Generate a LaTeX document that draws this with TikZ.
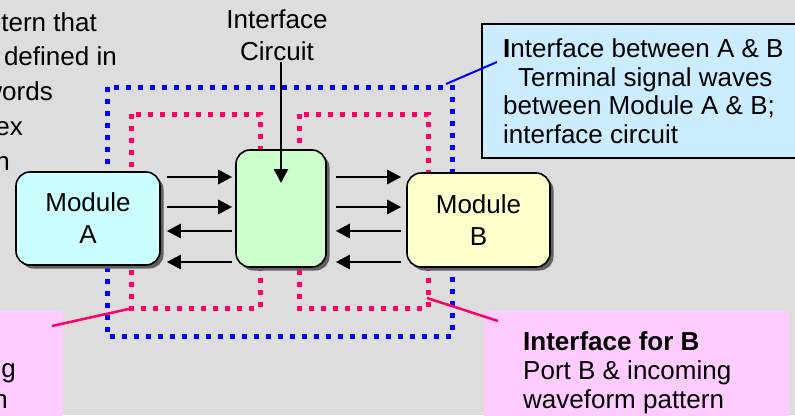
\documentclass[tikz,border=0pt]{standalone}
\usepackage{fontspec}
\setmainfont{Liberation Sans}
\usetikzlibrary{arrows.meta,shadows,calc}
\definecolor{bgc}{HTML}{DDDDDD}
\definecolor{bluefill}{HTML}{CCECFF}
\definecolor{modA}{HTML}{CCFFFF}
\definecolor{modC}{HTML}{CCFFCC}
\definecolor{modB}{HTML}{FFFFCC}
\definecolor{pinkfill}{HTML}{FFCCFF}
\definecolor{dotpink}{HTML}{FF0066}
\definecolor{dotblue}{HTML}{0000FF}
\definecolor{shadowc}{HTML}{606060}
\begin{document}
\begin{tikzpicture}[x=1pt,y=-1pt,
  modbox/.style={draw=black, line width=1.6pt, rounded corners=14pt,
    drop shadow={shadow xshift=3.5pt, shadow yshift=-3.5pt, fill=shadowc, opacity=1},
    align=center, inner sep=0pt, font=\fontsize{26}{32}\selectfont},
  arr/.style={line width=2.6pt, -{Triangle[length=14pt,width=14pt]}},
  bluedot/.style={draw=dotblue, line width=5pt, dash pattern=on 5pt off 7pt},
  pinkdot/.style={draw=dotpink, line width=5pt, dash pattern=on 5pt off 7pt},
  txt/.style={inner sep=0pt, font=\fontsize{26}{29}\selectfont},
  leaderpink/.style={draw=dotpink, line width=2.5pt},
  leaderblue/.style={draw=dotblue, line width=2pt}]
\useasboundingbox (0,0) rectangle (795,415);
\clip (0,0) rectangle (795,415);
\fill[bgc] (0,0) rectangle (795,415);

% dotted interface outlines
\draw[bluedot] (107,87) rectangle (452,336);
\draw[pinkdot] (131,114) rectangle (260,308);
\draw[pinkdot] (299,114) rectangle (428,308);

% modules
\node[modbox, fill=modA, minimum width=144pt, minimum height=93pt] (A) at (88,218.5) {Module\\A};
\node[modbox, fill=modC, minimum width=90pt, minimum height=117pt] (C) at (281,208.5) {};
\node[modbox, fill=modB, minimum width=143pt, minimum height=94pt] (B) at (478.5,220) {Module\\B};

% signal arrows
\foreach \yy in {177,207}{
  \draw[arr, shorten <=6pt, shorten >=3pt] (A.east |- 0,\yy) -- (C.west |- 0,\yy);
  \draw[arr, shorten <=9pt, shorten >=5pt] (C.east |- 0,\yy) -- (B.west |- 0,\yy);
}
\foreach \yy in {231,262}{
  \draw[arr, shorten <=3pt, shorten >=6pt] (C.west |- 0,\yy) -- (A.east |- 0,\yy);
  \draw[arr, shorten <=5pt, shorten >=9pt] (B.west |- 0,\yy) -- (C.east |- 0,\yy);
}

% interface circuit label
\node[txt, font=\fontsize{26}{32}\selectfont, align=center, anchor=north] (lbl) at (277,9) {Interface\\Circuit};
\draw[arr, shorten <=2pt, shorten >=25.5pt] (lbl.south -| C.center) -- (C.center);

% callout boxes
\fill[bluefill, draw=black, line width=2.5pt] (482,24) rectangle (805,158);
\node[txt, align=left, anchor=north west, font=\fontsize{26}{28.7}\selectfont] (ttab) at (503,38.5)
  {\textbf{I}nterface between A \& B\\\hspace*{15pt}Terminal signal waves\\between Module A \& B;\\interface circuit};
\fill[pinkfill] (484,311) rectangle (789,420);
\node[txt, align=left, anchor=north west] (tfb) at (523,331.5)
  {\textbf{Interface for B}\\Port B \& incoming\\waveform pattern};
\fill[pinkfill] (-10,311) rectangle (63,420);
\node[txt, anchor=base east] (tfa1) at (16,377) {ng};
\node[txt, anchor=base east] (tfa2) at (8,408) {n};

% left text fragments
\node[txt, anchor=base east] (lt1) at (97,31) {tern that};
\node[txt, anchor=base east] (lt2) at (117,65) {defined in};
\node[txt, anchor=base east] (lt3) at (53,100) {words};
\node[txt, anchor=base east] (lt4) at (23,135) {ex};
\node[txt, anchor=base east] (lt5) at (10,170) {n};

% leader lines
\coordinate (pbA) at (133,308);
\coordinate (pbAend) at (52,326);
\coordinate (pbB) at (427,298);
\coordinate (pbBend) at (498,321);
\coordinate (bl) at (446,84);
\coordinate (blend) at (497,62);
\draw[leaderpink] (pbA) -- (pbAend);
\draw[leaderpink] (pbB) -- (pbBend);
\draw[leaderblue] (bl) -- (blend);
\end{tikzpicture}
\end{document}
